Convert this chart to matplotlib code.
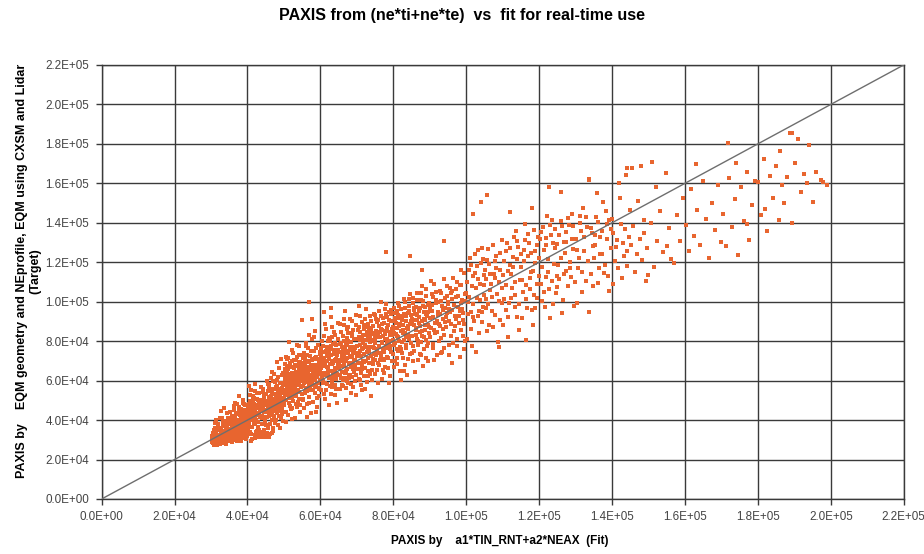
import numpy as np
import matplotlib
matplotlib.use("Agg")
import matplotlib.pyplot as plt
from matplotlib.ticker import FuncFormatter, MultipleLocator

plt.rcParams['font.family'] = ['Liberation Sans', 'DejaVu Sans']

# values in units of 1e3, (fit, target)
low_pts = [
    (30.2,29.1),(30.5,33.4),(30.8,27.6),(31.0,31.2),(31.1,36.0),(31.4,28.4),(31.6,30.5),(31.9,34.8),(32.0,38.2),(32.2,29.7),
    (32.4,32.6),(32.5,27.9),(32.7,35.5),(32.9,30.8),(33.0,41.3),(33.1,33.7),(33.3,29.0),(33.5,37.1),(33.6,31.9),(33.8,34.4),
    (33.9,28.6),(34.0,39.5),(34.1,32.3),(34.3,36.6),(34.4,30.1),(34.5,43.8),(34.6,33.0),(34.7,35.2),(34.8,29.4),(34.9,38.0),
    (31.3,40.2),(32.8,44.5),(30.9,35.2),(33.7,46.3),(34.2,27.8),(31.8,32.0),(32.3,31.0),(33.4,32.5),(34.5,31.4),(30.4,30.9),
    (35.1,30.2),(35.2,34.5),(35.3,38.9),(35.4,32.1),(35.6,29.3),(35.7,36.4),(35.8,42.0),(35.9,33.3),(36.0,31.0),(36.1,39.6),
    (36.2,45.2),(36.3,34.9),(36.4,29.8),(36.5,37.7),(36.6,32.4),(36.7,41.1),(36.8,35.5),(36.9,30.6),(37.0,48.0),(37.1,38.3),
    (37.2,33.8),(37.3,36.1),(37.4,43.5),(37.5,31.7),(37.6,39.9),(37.7,35.0),(37.8,46.7),(37.9,37.2),(38.0,32.9),(38.1,41.8),
    (38.2,36.9),(38.3,29.5),(38.4,44.1),(38.5,38.6),(38.6,34.2),(38.7,40.4),(38.8,50.3),(38.9,37.5),(39.0,42.6),(39.1,33.5),
    (39.2,39.1),(39.3,47.4),(39.4,36.3),(39.5,41.5),(39.6,30.4),(39.7,44.9),(39.8,38.0),(39.9,35.8),(36.5,48.9),(37.8,52.0),
    (38.6,31.2),(39.3,32.6),(35.5,40.8),(36.9,43.0),(38.2,45.8),
    (40.0,39.4),(40.1,44.7),(40.2,35.6),(40.3,48.2),(40.4,41.1),(40.5,37.3),(40.6,52.8),(40.7,42.9),(40.8,33.0),(40.9,46.0),
    (41.0,39.8),(41.1,55.1),(41.2,43.6),(41.3,36.7),(41.4,49.5),(41.5,41.9),(41.6,45.3),(41.7,38.4),(41.8,51.2),(41.9,44.0),
    (42.0,32.4),(42.1,40.6),(42.2,47.7),(42.3,33.8),(42.4,42.5),(42.5,53.9),(42.6,31.6),(42.7,45.9),(42.8,39.2),(42.9,32.9),
    (43.0,50.4),(43.1,43.3),(43.2,31.2),(43.3,47.1),(43.4,33.5),(43.5,41.4),(43.6,56.7),(43.7,32.2),(43.8,44.8),(43.9,48.6),
    (44.0,34.1),(44.1,42.2),(44.2,31.8),(44.3,46.4),(44.4,52.1),(44.5,33.2),(44.6,43.9),(44.7,39.7),(44.8,32.6),(44.9,49.0),
    (40.5,57.3),(41.3,30.2),(42.0,58.5),(43.0,36.5),(44.0,38.1),(42.7,34.6),(43.8,31.5),(44.6,34.8),(40.9,29.6),(41.8,47.2),
    (43.4,45.0),(44.3,54.4),(42.2,37.8),(40.3,43.2),(41.6,50.8),
    (45.0,44.2),(45.1,32.1),(45.2,49.8),(45.3,41.5),(45.4,33.4),(45.5,54.6),(45.6,46.7),(45.7,31.9),(45.8,51.3),(45.9,43.0),
    (46.0,58.2),(46.1,48.1),(46.2,33.0),(46.3,44.9),(46.4,61.5),(46.5,52.4),(46.6,40.2),(46.7,47.3),(46.8,55.8),(46.9,34.7),
    (47.0,50.0),(47.1,45.6),(47.2,63.3),(47.3,42.1),(47.4,53.2),(47.5,48.8),(47.6,38.6),(47.7,57.0),(47.8,46.2),(47.9,51.7),
    (48.0,43.7),(48.1,60.4),(48.2,49.3),(48.3,37.4),(48.4,54.1),(48.5,47.0),(48.6,66.2),(48.7,52.6),(48.8,44.4),(48.9,58.8),
    (49.0,50.6),(49.1,41.0),(49.2,55.3),(49.3,48.4),(49.4,62.7),(49.5,45.3),(49.6,53.9),(49.7,39.5),(49.8,57.6),(49.9,51.1),
    (45.6,36.2),(46.3,38.0),(47.1,35.8),(48.0,69.4),(49.2,71.0),(45.9,56.9),(46.8,42.8),(47.6,59.5),(48.5,55.6),(49.6,46.1),
    (45.3,60.0),(46.6,64.4),(47.9,40.0),(48.9,35.9),(49.4,43.3),
]

core_pts = [
    (50.0,55.2),(50.1,47.8),(50.2,61.9),(50.3,52.6),(50.4,68.4),(50.5,44.1),(50.6,57.7),(50.7,50.3),(50.8,65.1),(50.9,59.3),
    (51.0,42.6),(51.1,54.0),(51.2,71.5),(51.3,60.8),(51.4,48.9),(51.5,56.4),(51.6,67.3),(51.7,53.1),(51.8,62.6),(51.9,45.7),
    (52.0,58.5),(52.1,69.9),(52.2,51.4),(52.3,63.8),(52.4,55.8),(52.5,74.2),(52.6,49.6),(52.7,60.1),(52.8,66.6),(52.9,53.7),
    (53.0,57.2),(53.1,41.3),(53.2,64.5),(53.3,70.6),(53.4,52.0),(53.5,59.0),(53.6,46.8),(53.7,62.0),(53.8,68.0),(53.9,55.0),
    (54.0,77.5),(54.1,58.0),(54.2,50.7),(54.3,65.7),(54.4,61.2),(54.5,43.9),(54.6,56.6),(54.7,72.9),(54.8,63.1),(54.9,53.4),
    (50.6,38.9),(51.5,79.6),(52.3,40.4),(53.5,78.3),(54.3,47.4),(50.2,66.0),(51.0,63.4),(51.9,58.9),(52.7,55.3),(53.3,61.5),
    (54.1,68.9),(50.9,70.8),(52.1,46.2),(53.8,49.1),(54.6,59.8),(51.3,51.0),(52.5,57.6),(53.1,67.7),(54.9,66.4),(50.4,59.6),
    (55.0,62.3),(55.1,50.2),(55.2,68.7),(55.3,57.4),(55.4,74.0),(55.5,45.9),(55.6,64.1),(55.7,59.6),(55.8,71.2),(55.9,53.5),
    (56.0,66.9),(56.1,79.3),(56.2,61.0),(56.3,48.3),(56.4,56.1),(56.5,69.5),(56.6,63.7),(56.7,76.4),(56.8,58.4),(56.9,51.9),
    (57.0,65.3),(57.1,72.6),(57.2,60.2),(57.3,43.6),(57.4,67.8),(57.5,55.0),(57.6,81.1),(57.7,62.9),(57.8,70.3),(57.9,57.8),
    (58.0,49.0),(58.1,64.8),(58.2,75.1),(58.3,60.7),(58.4,53.8),(58.5,68.1),(58.6,85.2),(58.7,63.5),(58.8,56.9),(58.9,72.0),
    (59.0,46.6),(59.1,66.2),(59.2,61.7),(59.3,78.0),(59.4,58.7),(59.5,69.2),(59.6,52.4),(59.7,64.0),(59.8,74.7),(59.9,60.4),
    (55.0,90.8),(57.8,91.0),(56.4,41.7),(58.8,44.3),(55.7,66.0),(56.9,61.9),(57.8,65.9),(58.4,71.7),(59.4,67.0),(55.5,72.9),
    (56.2,54.6),(57.3,58.0),(58.9,62.4),(59.7,56.2),(56.8,83.3),
    (60.0,64.6),(60.2,71.9),(60.3,55.4),(60.5,80.2),(60.6,67.3),(60.8,60.1),(60.9,94.8),(61.0,74.5),(61.2,50.8),(61.3,69.0),
    (61.5,62.7),(61.6,86.0),(61.8,76.9),(61.9,58.3),(62.0,65.9),(62.2,72.3),(62.3,47.5),(62.5,81.6),(62.6,68.4),(62.8,61.6),
    (62.9,77.8),(63.0,96.8),(63.1,56.8),(63.3,70.1),(63.4,64.2),(63.6,84.4),(63.7,73.7),(63.9,52.7),(64.0,66.5),(64.1,79.0),
    (64.3,60.9),(64.4,71.1),(64.5,48.7),(64.7,89.1),(64.8,67.7),(64.9,75.6),(60.1,76.3),(60.7,58.9),(61.1,82.7),(61.7,70.0),
    (62.1,63.9),(62.4,75.0),(62.7,57.4),(63.2,68.6),(63.5,78.7),(63.8,61.1),(64.2,74.2),(64.6,63.3),(60.4,68.0),(61.4,88.5),
    (62.9,92.0),(64.0,57.7),(60.9,53.0),(62.6,79.9),(63.9,83.1),(61.9,66.8),(63.3,59.6),(64.4,70.0),(60.5,62.2),(62.2,73.2),
    (65.0,70.6),(65.2,63.1),(65.4,78.4),(65.5,55.7),(65.7,84.9),(65.9,67.4),(66.0,74.0),(66.2,60.3),(66.4,91.2),(66.5,69.8),
    (66.7,76.6),(66.9,50.0),(67.0,65.0),(67.2,81.8),(67.4,71.5),(67.5,58.6),(67.7,87.3),(67.9,68.2),(68.0,75.3),(68.2,62.8),
    (68.4,79.6),(68.5,53.9),(68.7,72.7),(68.9,66.1),(69.0,85.6),(69.2,77.2),(69.4,60.0),(69.5,70.4),(69.7,93.4),(69.9,73.8),
    (65.3,88.7),(66.1,57.3),(66.8,63.7),(67.3,77.9),(68.1,69.0),(68.8,82.5),(69.3,64.6),(69.8,52.7),(65.8,72.1),(66.6,80.1),
    (67.8,61.5),(68.6,90.0),(69.6,67.7),(65.1,66.3),(66.3,71.8),(67.1,74.9),(67.6,83.9),(68.3,58.1),(69.1,75.8),(65.6,61.4),
    (66.8,95.3),(68.4,66.9),(69.9,80.9),(67.0,56.5),(65.9,76.9),
]

mid_pts = [
    (70.0,77.4),(70.2,68.9),(70.3,85.5),(70.5,60.7),(70.7,73.2),(70.8,92.6),(71.0,80.6),(71.2,64.0),(71.3,75.9),(71.5,55.4),
    (71.7,83.0),(71.8,70.2),(72.0,88.4),(72.2,78.1),(72.3,66.6),(72.5,96.2),(72.7,74.4),(72.8,59.3),(73.0,81.4),(73.2,71.6),
    (73.3,86.8),(73.5,63.4),(73.7,77.0),(73.8,52.1),(74.0,90.1),(74.2,79.9),(74.3,68.3),(74.5,84.1),(74.7,73.5),(74.8,94.0),
    (70.1,72.4),(70.6,82.1),(71.1,57.6),(71.6,79.0),(72.1,69.5),(72.6,87.2),(73.1,65.1),(73.6,82.7),(74.1,60.2),(74.6,76.4),
    (70.4,66.0),(71.4,89.8),(72.4,80.8),(73.4,75.2),(74.4,71.1),(70.9,74.9),(71.9,62.5),(72.9,84.7),(73.9,69.0),(74.9,81.8),
    (70.7,98.0),(72.2,56.0),(73.7,93.0),(71.3,67.8),(74.0,85.8),
    (75.0,80.5),(75.2,73.0),(75.4,89.6),(75.6,65.2),(75.8,84.3),(76.0,77.7),(76.2,95.1),(76.4,70.4),(76.6,86.2),(76.8,61.0),
    (77.0,79.3),(77.2,91.8),(77.4,74.7),(77.6,83.6),(77.8,67.1),(78.0,98.7),(78.2,81.0),(78.4,72.2),(78.6,88.1),(78.8,58.9),
    (79.0,84.8),(79.2,76.1),(79.4,93.7),(79.6,69.7),(79.8,87.0),(75.1,93.5),(75.7,59.0),(76.3,81.9),(76.9,88.8),(77.5,63.8),
    (78.1,77.3),(78.7,94.6),(79.3,80.2),(79.9,73.6),(75.5,76.0),(76.5,99.8),(77.1,70.9),(77.9,85.4),(78.5,66.3),(79.5,90.4),
    (75.3,85.0),(76.1,67.9),(77.3,82.4),(78.3,92.3),(79.1,62.4),(76.7,74.0),(78.9,78.6),(75.9,90.7),(77.7,96.4),(79.7,82.9),
    (80.0,86.1),(80.2,78.3),(80.4,94.3),(80.6,70.1),(80.8,89.0),(81.0,82.4),(81.2,99.2),(81.4,74.8),(81.6,91.6),(81.8,64.9),
    (82.0,85.3),(82.2,96.5),(82.4,79.6),(82.6,88.4),(82.8,71.7),(83.0,101.5),(83.2,84.2),(83.4,76.7),(83.6,92.9),(83.8,62.8),
    (84.0,87.6),(84.2,81.1),(84.4,97.9),(84.6,73.3),(84.8,90.2),(80.1,66.7),(80.7,83.7),(81.3,93.1),(81.9,77.0),(82.5,90.9),
    (83.1,68.0),(83.7,86.5),(84.3,95.4),(84.9,79.1),(80.5,90.0),(81.5,80.0),(82.3,73.8),(83.3,97.0),(84.1,83.0),(80.9,76.0),
    (81.7,87.8),(82.9,94.0),(83.9,71.0),(84.5,88.8),(82.1,60.5),(83.5,81.9),(84.7,104.0),(80.3,96.9),(81.1,71.4),(82.7,84.0),
    (85.0,91.3),(85.2,82.6),(85.5,99.6),(85.7,75.1),(86.0,93.6),(86.2,86.9),(86.5,104.2),(86.7,70.3),(87.0,89.4),(87.2,96.8),
    (87.5,79.8),(87.7,101.1),(88.0,85.0),(88.2,67.4),(88.5,94.7),(88.7,88.3),(89.0,106.5),(89.2,77.5),(89.5,98.1),(89.7,83.9),
    (85.1,73.9),(85.6,88.0),(86.1,97.5),(86.6,81.3),(87.1,92.2),(87.6,72.8),(88.1,100.3),(88.6,90.6),(89.1,80.6),(89.6,95.0),
    (85.3,102.0),(85.9,64.5),(86.4,90.7),(87.3,84.4),(87.9,108.0),(88.4,76.2),(89.3,92.8),(89.9,87.1),(85.8,95.9),(86.8,77.9),
    (87.8,90.0),(88.8,97.3),(89.4,70.0),(86.3,85.8),(88.3,82.2),
    (90.0,96.2),(90.3,86.7),(90.5,103.8),(90.8,78.4),(91.0,92.5),(91.3,108.9),(91.5,84.1),(91.8,99.3),(92.0,73.0),(92.3,95.0),
    (92.5,88.9),(92.8,105.6),(93.0,81.7),(93.3,97.7),(93.5,91.2),(93.8,111.3),(94.0,76.5),(94.3,101.8),(94.5,87.3),(94.8,94.1),
    (90.1,82.0),(90.6,95.5),(91.1,70.6),(91.6,101.0),(92.1,90.3),(92.6,80.0),(93.1,104.3),(93.6,86.0),(94.1,96.9),(94.6,108.2),
    (90.4,110.5),(91.4,89.4),(92.4,99.9),(93.4,74.4),(94.4,92.0),(90.9,102.2),(91.9,84.8),(92.9,93.6),(93.9,83.0),(94.9,100.0),
    (95.0,99.0),(95.3,90.2),(95.6,107.0),(95.9,82.8),(96.2,95.8),(96.5,112.1),(96.8,87.9),(97.1,102.4),(97.4,77.6),(97.7,97.1),
    (98.0,92.7),(98.3,108.6),(98.6,85.5),(98.9,100.8),(99.2,94.4),(99.5,114.7),(99.8,80.3),(95.2,73.2),(95.8,104.5),(96.4,79.0),
    (97.0,93.0),(97.6,110.0),(98.2,72.0),(98.8,96.3),(99.4,88.5),(95.5,94.7),(96.1,101.5),(96.7,85.0),(97.3,106.2),(97.9,89.2),
    (98.5,99.5),(99.1,82.6),(99.7,103.9),(96.0,68.8),(98.7,116.0),
]

dense_pts = [
    (30.3,31.8),(30.6,28.3),(30.7,34.1),(31.2,29.9),(31.5,33.0),(31.7,27.4),(32.1,35.9),(32.6,30.2),(33.2,36.8),(33.6,28.2),
    (34.0,33.8),(34.4,37.9),(34.9,32.0),(35.0,35.6),(35.3,31.0),(35.7,33.9),(35.9,37.5),(36.1,30.5),(36.3,41.9),(36.6,36.0),
    (36.8,31.9),(37.1,34.6),(37.3,39.3),(37.6,30.9),(37.9,42.7),(38.0,35.4),(38.3,33.1),(38.5,40.0),(38.8,36.2),(39.0,31.5),
    (39.2,43.8),(39.4,38.7),(39.7,33.2),(39.9,40.9),(31.0,38.5),(32.4,40.8),(33.0,31.6),(33.9,30.2),(34.7,41.0),(35.2,44.0),
    (36.0,34.3),(36.7,38.8),(37.4,31.2),(38.1,38.0),(38.9,45.3),(39.5,35.0),(35.8,28.9),(37.0,29.6),(38.4,30.8),(39.8,32.0),
    (31.6,31.4),(32.8,33.1),(34.2,34.9),(36.4,32.7),(37.7,44.6),(39.1,48.1),(34.6,39.2),(33.3,38.9),(36.2,46.9),(38.7,48.6),
    (40.1,41.8),(40.2,46.3),(40.4,38.2),(40.6,44.0),(40.7,49.9),(40.9,40.1),(41.0,47.6),(41.2,36.3),(41.3,45.0),(41.5,52.2),
    (41.6,42.4),(41.8,39.0),(41.9,48.4),(42.1,44.8),(42.2,54.9),(42.4,40.0),(42.5,46.9),(42.7,50.8),(42.8,43.5),(43.0,38.9),
    (43.1,48.0),(43.3,53.5),(43.4,42.0),(43.6,46.0),(43.7,50.1),(43.9,40.8),(44.0,45.5),(44.2,56.0),(44.3,41.6),(44.5,47.9),
    (44.6,51.0),(44.8,44.6),(44.9,39.4),(45.1,47.4),(45.2,53.0),(45.4,45.1),(45.5,58.3),(45.7,49.1),(45.8,42.2),(46.0,51.8),
    (46.1,45.8),(46.3,55.0),(46.4,49.6),(46.6,43.4),(46.7,53.6),(46.9,47.8),(47.0,59.9),(47.2,44.6),(47.3,50.9),(47.5,55.7),
    (47.6,46.8),(47.8,53.0),(47.9,48.6),(48.1,45.0),(48.2,57.2),(48.4,50.0),(48.5,61.6),(48.7,47.7),(48.8,54.8),(49.0,52.3),
    (49.1,59.0),(49.3,46.3),(49.4,56.4),(49.6,50.4),(49.7,64.1),(49.9,48.0),(41.1,32.7),(42.0,31.1),(42.9,33.6),(43.5,32.0),
    (44.1,33.0),(44.8,31.3),(45.5,32.8),(46.0,31.6),(46.7,33.3),(40.6,34.1),(43.2,35.2),(45.2,37.4),(47.4,40.9),(48.6,42.0),
    (50.1,58.4),(50.3,64.8),(50.5,53.9),(50.6,62.4),(50.8,67.6),(50.9,56.1),(51.1,60.5),(51.2,65.9),(51.4,57.5),(51.5,53.0),
    (51.7,63.3),(51.8,69.1),(52.0,60.9),(52.1,55.1),(52.3,66.8),(52.4,61.6),(52.6,58.2),(52.7,70.7),(52.9,63.0),(53.0,54.6),
    (53.2,67.2),(53.3,59.8),(53.5,64.0),(53.6,72.1),(53.8,57.9),(53.9,62.8),(54.1,66.0),(54.2,54.2),(54.4,69.6),(54.5,60.0),
    (54.7,64.6),(54.8,57.0),(55.0,67.7),(55.1,61.2),(55.3,71.4),(55.4,58.8),(55.6,65.4),(55.7,62.0),(55.9,69.0),(56.0,56.5),
    (56.2,64.3),(56.3,73.2),(56.5,59.5),(56.6,67.1),(56.8,62.6),(56.9,70.0),(57.1,57.1),(57.2,65.8),(57.4,61.4),(57.5,74.8),
    (57.7,59.0),(57.8,68.0),(58.0,63.9),(58.1,55.4),(58.3,70.9),(58.4,66.4),(58.6,60.5),(58.7,76.7),(58.9,65.2),(59.0,58.6),
    (59.2,71.0),(59.3,63.3),(59.5,67.4),(59.6,55.9),(59.8,69.8),(59.9,73.4),(50.7,71.9),(51.6,46.9),(52.2,75.6),(53.4,48.4),
    (54.0,73.0),(55.2,50.9),(56.1,77.8),(57.0,48.8),(58.2,81.9),(59.1,51.4),(50.0,63.0),(52.8,52.6),(55.8,54.0),(58.5,57.4),
    (60.1,66.2),(60.3,73.8),(60.4,61.0),(60.6,69.5),(60.8,77.7),(60.9,64.0),(61.1,71.3),(61.2,59.0),(61.4,67.3),(61.6,75.2),
    (61.7,63.0),(61.9,72.5),(62.0,80.0),(62.2,66.7),(62.4,61.2),(62.5,70.8),(62.7,76.0),(62.8,64.8),(63.0,73.0),(63.2,58.9),
    (63.3,82.3),(63.5,68.8),(63.6,62.1),(63.8,75.6),(64.0,70.7),(64.1,65.2),(64.3,78.2),(64.4,61.5),(64.6,72.8),(64.7,67.0),
    (64.9,81.0),(65.1,68.6),(65.2,74.6),(65.4,62.6),(65.6,79.1),(65.7,70.0),(65.9,64.3),(66.1,76.1),(66.2,82.8),(66.4,67.9),
    (66.6,73.3),(66.7,61.4),(66.9,78.4),(67.1,70.1),(67.2,86.3),(67.4,65.8),(67.6,74.0),(67.7,79.9),(67.9,63.0),(68.1,72.0),
    (68.2,77.0),(68.4,68.3),(68.6,84.0),(68.7,61.7),(68.9,74.7),(69.1,70.5),(69.2,81.3),(69.4,66.5),(69.6,76.3),(69.7,62.7),
    (69.9,88.2),(61.5,55.5),(62.9,53.2),(64.2,56.0),(65.8,57.8),(67.3,59.8),(68.9,56.9),(63.1,87.0),(66.5,88.0),(68.0,91.2),
    (70.1,80.9),(70.3,74.1),(70.5,87.0),(70.6,69.0),(70.8,78.3),(71.0,84.7),(71.2,72.6),(71.4,81.0),(71.5,66.0),(71.7,76.6),
    (71.9,86.1),(72.1,73.7),(72.3,91.0),(72.4,77.2),(72.6,70.0),(72.8,82.9),(73.0,75.4),(73.1,88.6),(73.3,68.7),(73.5,79.4),
    (73.7,84.6),(73.8,72.3),(74.0,80.7),(74.2,65.4),(74.4,87.7),(74.5,76.9),(74.7,83.5),(74.9,70.6),(75.1,79.0),(75.3,91.4),
    (75.4,74.2),(75.6,82.0),(75.8,68.8),(76.0,87.5),(76.1,77.1),(76.3,84.4),(76.5,72.0),(76.7,92.6),(76.8,79.8),(77.0,85.9),
    (77.2,75.8),(77.4,89.3),(77.5,70.4),(77.7,81.2),(77.9,93.7),(78.1,76.6),(78.2,86.8),(78.4,79.4),(78.6,71.3),(78.8,90.6),
    (79.0,83.3),(79.1,77.8),(79.3,95.8),(79.5,74.6),(79.7,86.4),(79.9,80.5),(71.0,60.5),(73.2,62.1),(75.0,63.5),(77.3,65.6),
    (80.1,84.1),(80.4,91.6),(80.6,78.9),(80.9,95.4),(81.1,86.7),(81.4,81.9),(81.6,97.9),(81.9,88.6),(82.1,75.8),(82.4,92.8),
    (82.6,85.9),(82.9,80.8),(83.1,99.7),(83.4,90.0),(83.6,78.0),(83.9,94.5),(84.1,86.3),(84.4,101.6),(84.6,82.4),(84.9,93.3),
    (85.1,88.5),(85.4,77.6),(85.6,97.0),(85.9,90.5),(86.1,83.0),(86.4,100.9),(86.6,93.1),(86.9,80.2),(87.1,95.5),(87.4,87.8),
    (87.6,104.6),(87.9,82.8),(88.1,97.9),(88.4,91.4),(88.6,85.5),(88.9,102.7),(89.1,94.0),(89.4,88.1),(89.6,79.2),(89.9,99.1),
    (90.2,91.8),(90.7,98.5),(91.2,85.7),(91.7,104.8),(92.2,93.3),(92.7,87.6),(93.2,100.6),(93.7,95.7),(94.2,89.7),(94.7,103.0),
    (95.2,96.4),(95.7,88.6),(96.2,105.3),(96.7,98.2),(97.2,91.0),(97.7,103.1),(98.2,95.5),(98.7,108.4),(99.2,90.6),(99.7,100.4),
    (81.0,68.5),(83.0,64.9),(85.3,69.7),(87.2,73.6),(89.0,71.5),(91.0,76.6),(93.0,73.9),(95.4,78.3),(97.5,80.9),(99.5,76.2),
]

upper_pts = [
    (100.0,104.6),(100.4,93.9),(100.8,116.3),(101.2,86.4),(101.6,108.2),(102.0,98.7),(102.4,124.0),(102.8,74.5),(103.2,111.5),
    (103.6,95.2),(104.0,119.4),(104.4,89.6),(104.8,103.3),(100.2,81.0),(100.6,99.8),(101.0,122.1),(101.4,95.0),(101.8,112.9),
    (102.2,90.0),(102.6,106.7),(103.0,118.0),(103.4,83.9),(103.8,101.0),(104.2,127.3),(104.6,97.4),(101.5,77.5),(103.1,92.8),
    (104.9,113.6),
    (105.0,108.5),(105.4,96.7),(105.8,121.2),(106.2,88.2),(106.6,113.9),(107.0,102.3),(107.4,128.8),(107.8,93.5),(108.2,117.0),
    (108.6,79.8),(109.0,109.9),(109.4,124.6),(109.8,99.1),(105.2,116.0),(105.7,85.0),(106.4,106.0),(107.2,95.4),(107.9,120.5),
    (108.5,104.1),(109.2,90.7),(109.7,131.2),(106.0,126.8),(108.0,111.8),(105.5,101.6),(109.0,77.0),
    (110.0,113.4),(110.5,101.2),(111.0,125.7),(111.5,92.0),(112.0,118.8),(112.5,107.0),(113.0,133.0),(113.5,97.3),(114.0,121.9),
    (114.5,85.6),(110.2,88.0),(110.8,108.7),(111.3,130.0),(111.8,99.6),(112.3,114.3),(112.8,122.8),(113.3,103.5),(113.8,92.4),
    (114.3,127.5),(114.8,110.9),(111.6,82.0),(113.6,136.0),
    (115.0,117.6),(115.5,104.8),(116.0,131.1),(116.5,80.6),(117.0,123.3),(117.5,112.0),(118.0,95.7),(118.5,136.3),(119.0,119.6),
    (119.5,101.7),(115.2,91.5),(115.8,126.0),(116.3,108.4),(116.8,97.0),(117.3,129.8),(117.8,114.9),(118.3,88.4),(118.8,125.9),
    (119.3,109.0),(119.8,132.7),(116.0,139.5),(118.7,103.2),
    (120.0,122.4),(120.5,108.8),(121.0,137.9),(121.5,97.4),(122.0,128.5),(122.5,115.3),(123.0,91.8),(123.5,141.4),(124.0,119.1),
    (124.5,104.5),(120.2,131.6),(120.8,100.5),(121.3,126.2),(121.8,112.5),(122.3,143.7),(122.8,106.3),(123.3,133.8),(123.8,98.6),
    (124.3,127.0),(124.8,113.2),
    (125.0,129.1),(125.5,111.7),(126.0,141.0),(126.5,101.0),(127.0,124.8),(127.5,135.2),(128.0,108.0),(128.5,120.3),(129.0,144.6),
    (129.5,98.0),(125.3,118.4),(125.9,155.6),(126.8,130.5),(127.4,115.6),(128.2,139.0),(128.8,112.6),(129.4,126.9),(126.2,94.5),
    (130.0,131.8),(130.6,116.9),(131.2,143.3),(131.8,104.9),(132.4,125.5),(133.0,138.0),(133.6,161.8),(134.2,113.9),(134.8,128.3),
    (130.3,99.3),(131.0,122.2),(132.0,147.5),(132.8,110.6),(133.8,94.8),(134.5,134.9),(131.5,136.0),
    (135.0,122.0),(135.6,143.0),(136.2,109.4),(136.8,132.6),(137.4,150.5),(138.0,118.7),(138.6,139.6),(139.2,105.2),(139.8,127.4),
    (135.3,133.7),(136.0,155.0),(136.5,117.0),(137.2,124.4),(138.3,145.9),(139.0,113.1),(139.6,136.8),
    (140.0,141.7),(140.7,120.5),(141.4,131.3),(142.1,152.4),(142.8,112.0),(143.5,137.1),(144.2,125.8),(144.9,146.6),(140.4,108.9),
    (141.8,160.0),(143.0,130.0),(144.0,118.2),(141.0,127.6),(143.8,164.0),
    (145.2,128.6),(145.8,138.5),(146.4,115.3),(147.0,151.0),(147.6,131.9),(148.2,121.0),(148.8,141.3),(149.4,110.6),(145.5,168.0),
    (146.9,124.3),(147.9,169.0),(148.9,135.0),(149.7,127.2),
    (100.3,110.0),(100.9,102.5),(101.3,118.5),(101.9,92.3),(102.3,114.6),(102.9,101.9),(103.3,126.0),(103.9,108.9),(104.3,94.7),
    (104.7,121.7),(105.3,111.4),(105.9,98.9),(106.3,119.0),(106.9,109.2),(107.3,87.4),(107.7,114.2),(108.3,123.4),(108.9,100.6),
    (109.3,116.3),(109.9,106.8),(110.4,120.5),(110.9,95.6),(111.4,115.8),(111.9,127.4),(112.4,102.1),(112.9,117.5),(113.4,110.0),
    (113.9,131.0),(114.4,98.7),(114.9,124.3),(115.4,111.2),(115.9,120.6),(116.4,101.3),(116.9,134.2),(117.4,106.5),(117.9,124.7),
    (118.4,115.7),(118.9,96.9),(119.4,128.9),(119.9,113.1),(120.4,135.2),(120.9,117.8),(121.4,105.0),(121.9,132.4),(122.4,121.6),
    (122.9,139.0),(123.4,110.3),(123.9,129.8),(124.4,136.9),(124.9,107.7),(125.4,133.9),(125.9,122.0),(126.4,138.6),(126.9,113.8),
    (127.4,130.1),(127.9,142.3),(128.4,117.2),(128.9,131.9),(129.4,138.5),(129.9,109.9),(130.5,126.4),(131.1,139.9),(131.7,115.1),
    (132.3,132.8),(132.9,142.9),(133.5,120.4),(134.1,137.6),(134.7,107.9),(135.4,128.7),(136.1,140.4),(136.7,124.1),(137.3,135.9),
    (137.9,114.4),(138.5,131.7),(139.1,141.6),(140.2,134.6),(141.6,117.1),(142.5,139.2),(143.3,123.0),(144.6,132.9),
]

top_pts = [
    (150.0,113.6),(150.8,139.8),(151.0,171.0),(151.5,117.6),(152.3,130.8),(153.1,146.2),(153.9,125.0),(154.7,165.0),(155.5,137.4),
    (156.3,121.7),(157.0,119.6),(157.8,143.8),(158.6,131.0),(159.4,152.6),(155.0,128.2),(152.0,158.0),
    (160.2,139.0),(161.0,125.6),(161.8,157.3),(162.6,133.4),(163.0,170.0),(163.4,146.5),(164.2,128.5),(165.0,161.2),(165.8,141.8),
    (166.6,122.3),(167.4,150.0),(168.2,136.2),(169.0,159.4),(169.8,130.5),
    (170.5,144.6),(171.3,128.0),(171.7,180.5),(172.1,162.6),(172.9,137.7),(173.7,152.3),(174.5,123.5),(175.3,158.0),(176.1,141.0),
    (176.9,165.5),(177.7,131.5),(178.5,149.2),(179.3,161.0),(174.0,170.2),(177.0,139.3),
    (180.1,160.5),(180.9,144.0),(181.7,172.4),(182.0,147.0),(182.5,135.8),(183.3,163.6),(184.1,152.8),(184.9,168.7),(185.7,141.5),
    (186.0,176.5),(186.5,159.0),(187.3,150.2),(188.1,163.0),(188.7,185.6),(189.5,140.0),
    (189.5,185.6),(190.3,170.4),(191.0,182.5),(191.9,155.4),(192.7,164.7),(193.5,160.0),(194.0,179.5),(195.2,150.6),(196.0,166.0),
    (197.4,161.6),(198.0,160.7),(199.0,159.0),
]

outlier_pts = [
    (105.6,154.0),(104.0,150.6),(102.0,144.5),(112.0,145.5),(118.0,147.5),(94.0,131.0),(78.0,125.0),(84.5,123.0),
    (144.0,168.0),(133.6,162.0),(122.6,158.0),(126.0,155.6),(57.0,100.0),(88.0,116.0),
]

pts = np.array(low_pts + core_pts + mid_pts + dense_pts + upper_pts + top_pts + outlier_pts) * 1e3
fit_x = pts[:, 0]
target_y = pts[:, 1]

fig = plt.figure(figsize=(9.24, 5.54), dpi=100)
ax = fig.add_axes([0.110, 0.0993, 0.868, 0.7834])

ax.set_xlim(0, 2.2e5)
ax.set_ylim(0, 2.2e5)
ax.xaxis.set_major_locator(MultipleLocator(2e4))
ax.yaxis.set_major_locator(MultipleLocator(2e4))
fmt = FuncFormatter(lambda v, p: f"{v:.1E}")
ax.xaxis.set_major_formatter(fmt)
ax.yaxis.set_major_formatter(fmt)

ax.grid(True, color='#3a3a3a', linewidth=1.0)
ax.set_axisbelow(True)
for s in ax.spines.values():
    s.set_color('#3a3a3a')
    s.set_linewidth(1.0)

ax.plot([0, 2.2e5], [0, 2.2e5], color='#6e6e6e', linewidth=1.0, zorder=3)
ax.scatter(fit_x, target_y, s=5, marker='s', color='#E8652F', linewidths=0, zorder=2)

ax.tick_params(axis='both', direction='out', length=4, width=1, color='#3a3a3a',
               labelsize=8.4, labelcolor='#444444', pad=5)

fig.suptitle('PAXIS from (ne*ti+ne*te)  vs  fit for real-time use',
             fontsize=11.5, fontweight='bold', y=0.985)
ax.set_xlabel('PAXIS by    a1*TIN_RNT+a2*NEAX  (Fit)', fontsize=8.5, fontweight='bold', va='top')
ax.xaxis.set_label_coords(0.496, -0.083)
ax.set_ylabel('PAXIS by    EQM geometry and NEprofile, EQM using CXSM and Lidar\n(Target)',
              fontsize=9, fontweight='bold')
ax.yaxis.set_label_coords(-0.075, 0.525)

fig.savefig('out.png', dpi=100)
